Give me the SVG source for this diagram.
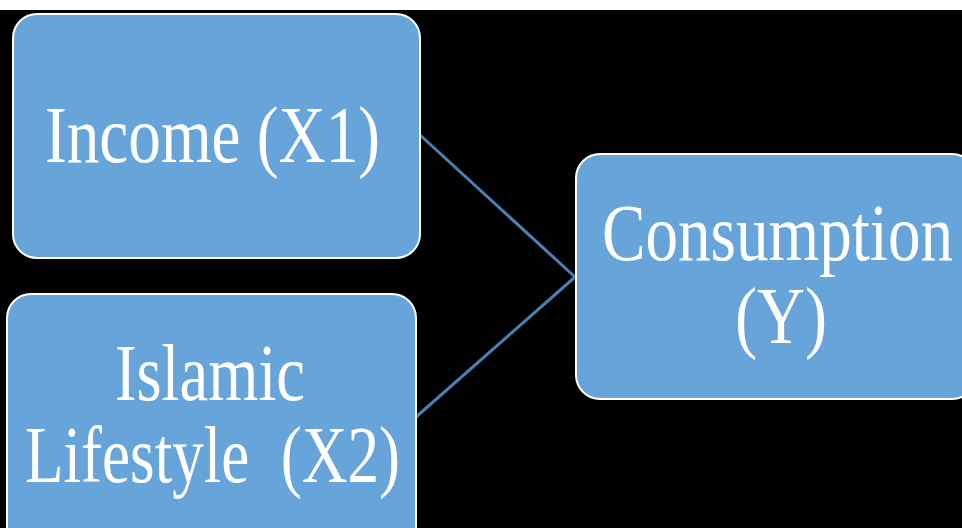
<svg xmlns="http://www.w3.org/2000/svg" width="962" height="528" viewBox="0 0 962 528">
<style>
.box{fill:#67a4d9;stroke:#ffffff;stroke-width:2}
.lbl{font-family:"Liberation Serif","Times New Roman",serif;font-size:80px;fill:#ffffff}
.conn{stroke:#4a80b6;stroke-width:3;fill:none}
</style>
<rect x="0" y="0" width="962" height="528" fill="#000000"/>
<rect x="0" y="0" width="962" height="10" fill="#ffffff"/>
<g id="connectors">
<line class="conn" x1="420" y1="135" x2="575" y2="277"/>
<line class="conn" x1="416" y1="417" x2="575" y2="277"/>
</g>
<g id="income">
<rect class="box" x="13" y="14" width="407" height="244" rx="24"/>
<text class="lbl" x="45" y="162" textLength="335" lengthAdjust="spacingAndGlyphs">Income (X1)</text>
</g>
<g id="lifestyle">
<rect class="box" x="7" y="294" width="409" height="260" rx="24"/>
<text class="lbl" x="115" y="400" textLength="190" lengthAdjust="spacingAndGlyphs">Islamic</text>
<text class="lbl" x="25" y="482" textLength="375" lengthAdjust="spacingAndGlyphs" xml:space="preserve">Lifestyle  (X2)</text>
</g>
<g id="consumption">
<rect class="box" x="576" y="154" width="400" height="245" rx="24"/>
<text class="lbl" x="602" y="260" textLength="351" lengthAdjust="spacingAndGlyphs">Consumption</text>
<text class="lbl" x="735" y="343" textLength="92" lengthAdjust="spacingAndGlyphs">(Y)</text>
</g>
</svg>
